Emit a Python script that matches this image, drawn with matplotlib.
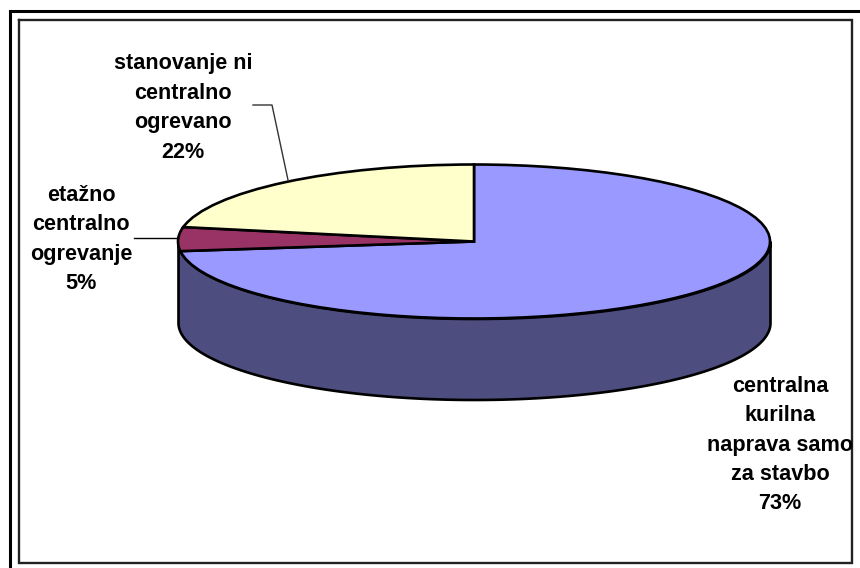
import numpy as np
import matplotlib
matplotlib.use("Agg")
import matplotlib.pyplot as plt

# podatki
labels = ["centralna\nkurilna\nnaprava samo\nza stavbo", "etažno\ncentralno\nogrevanje", "stanovanje ni\ncentralno\nogrevano"]
values = [73, 5, 22]
top_colors = ["#9999FF", "#993366", "#FFFFCC"]
wall_color = "#4D4D80"

W, H = 860, 568
cx, cy, rx, ry = 474, 241.5, 296, 77
depth = 81 / ry

plt.rcParams['font.family'] = ['Liberation Sans', 'DejaVu Sans']
fig = plt.figure(figsize=(W / 100, H / 100), dpi=100, facecolor="white")

# torta - os je raztegnjena, da je krog elipsa
ax = fig.add_axes([0, 0, 1, 1])
theta = np.linspace(np.pi, 2 * np.pi, 300)
ax.fill_between(np.cos(theta), np.sin(theta), np.sin(theta) - depth,
                facecolor=wall_color, edgecolor="black", linewidth=1.9)
ax.pie(values, colors=top_colors, startangle=90, counterclock=False, radius=1,
       wedgeprops=dict(edgecolor="black", linewidth=1.9))
ax.set_aspect("auto")
ax.set_xlim((0 - cx) / rx, (W - cx) / rx)
ax.set_ylim((cy - H) / ry, (cy - 0) / ry)
ax.axis("off")

# okvir, oznake in crte v pikslih
ov = fig.add_axes([0, 0, 1, 1], facecolor="none")
ov.set_xlim(0, W)
ov.set_ylim(H, 0)
ov.axis("off")

ov.plot([W, 9.5, 9.5], [10.5, 10.5, H], color="black", lw=2.2, solid_joinstyle="miter")
ov.plot([18.5, 851.5, 851.5, 18.5, 18.5], [19.5, 19.5, 562.5, 562.5, 19.5], color="#222222", lw=1.7, solid_joinstyle="miter")

ov.plot([253, 272, 288], [105, 105, 180], color="#333333", lw=1.0)
ov.plot([134, 178], [238, 238], color="black", lw=1.0)

label_pos = [(780, 445), (81, 239.5), (183, 108)]
for name, val, (x, y) in zip(labels, values, label_pos):
    ov.text(x, y, f"{name}\n{val}%", ha="center", va="center", fontsize=15.6,
            fontweight="bold", color="black", linespacing=1.53)

fig.savefig("out.png", dpi=100, facecolor="white")
